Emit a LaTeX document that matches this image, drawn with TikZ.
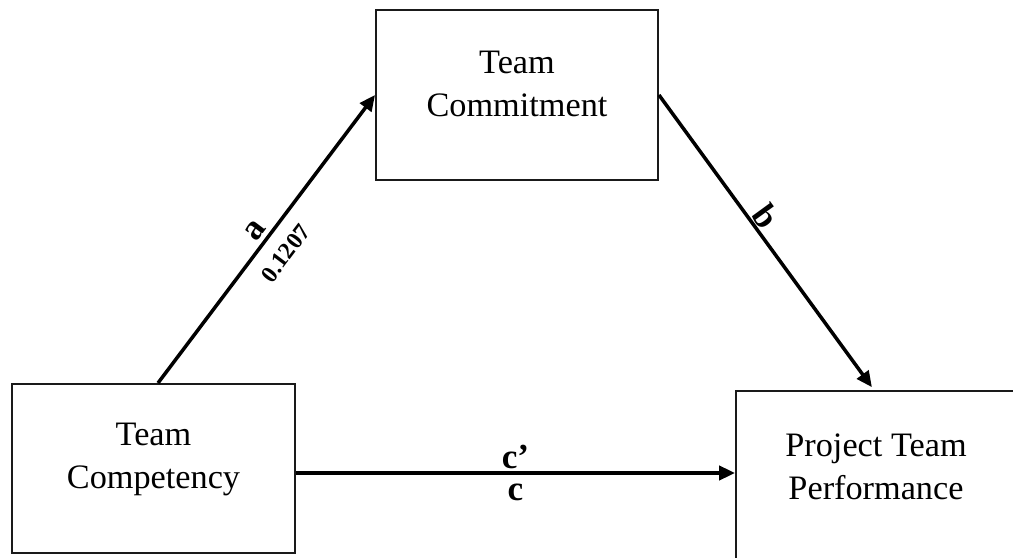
\documentclass[tikz,border=0pt]{standalone}
\usepackage{fontspec}
\setmainfont{Liberation Serif}
\usetikzlibrary{arrows.meta, positioning, calc}

\begin{document}
\begin{tikzpicture}[
    every node/.style={font=\fontsize{19.5}{24.5}\selectfont},
]

% ---------------------------------------------------------------- colours
\definecolor{boxline}{HTML}{1A1A1A}   % the three variable boxes
\definecolor{linkcolor}{HTML}{000000} % the paths between them

% ---------------------------------------------------------------- styles
\tikzset{
    varbox/.style={draw=boxline, line width=1.1pt, inner sep=0pt,
                   minimum width=5.64cm, minimum height=3.4cm},
    vartext/.style={anchor=north, align=center, inner sep=0pt},
    link/.style={-{Triangle[length=9pt, width=8pt]}, line width=2pt,
                 linkcolor},
    plab/.style={font=\fontsize{20}{22}\selectfont\bfseries, sloped},
    coef/.style={font=\fontsize{13.5}{15}\selectfont\bfseries, sloped},
}

% page is 1013 x 557 px, one px = 0.02cm
\useasboundingbox (0, 0) rectangle (20.26, 11.14);
\clip (0, 0) rectangle (20.26, 11.14);

% ---------------------------------------------------------------- boxes
\node[varbox] (comm) at (10.34, 9.24) {};
\node[varbox, minimum width=5.66cm, minimum height=3.38cm] (comp)
    at (3.07, 1.77) {};
\node[varbox, minimum width=5.6cm] (perf) at (17.52, 1.62) {};

% text sits in the upper part of each box
\node[vartext] (commtxt) at ([yshift=-0.84cm]comm.north) {Team\\Commitment};
\node[vartext] (comptxt) at ([yshift=-0.8cm]comp.north) {Team\\Competency};
\node[vartext] (perftxt) at ([yshift=-0.86cm]perf.north)
    {Project Team\\Performance};

% ---------------------------------------------------------------- paths
% a: competency -> commitment
\draw[link] ([xshift=0.09cm]comp.north) -- (comm.west)
    node[pos=0.5, above, plab, inner sep=2.5pt] (laba) {a}
    node[pos=0.5, below, coef, inner sep=8pt] (coefa) {0.1207};

% b: commitment -> performance
\draw[link, shorten >=2pt] (comm.east) -- ([xshift=-0.04cm]perf.north)
    node[pos=0.44, above, plab, inner sep=0.5pt] (labb) {b};

% c and c': the direct path
\coordinate (cstart) at ([yshift=-0.09cm]comp.east);
\draw[link] (cstart) -- (cstart -| perf.west)
    node[pos=0.5, above, plab, inner sep=1.5pt] (labcp) {c'}
    node[pos=0.5, below, plab, inner sep=5pt] (labc) {c};

\end{tikzpicture}
\end{document}
